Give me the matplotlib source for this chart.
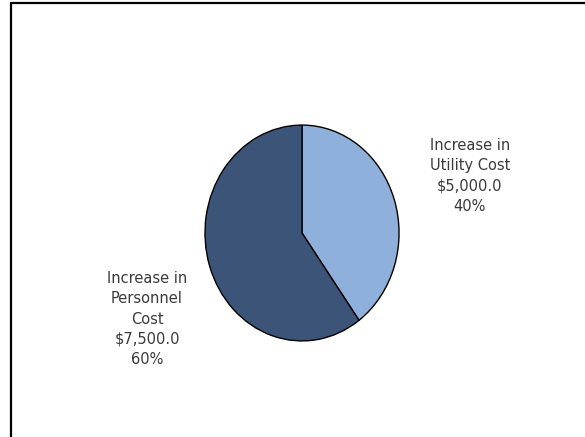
import matplotlib.pyplot as plt
from matplotlib.patches import Rectangle

# cost increases
categories = ['Increase in\nUtility Cost', 'Increase in\nPersonnel\nCost']
values = [5000.0, 7500.0]
colors = ['#8EB0DB', '#3C5478']

W, H = 585, 437
fig = plt.figure(figsize=(W / 100, H / 100), dpi=100)

# outer frame (runs off the right and bottom edges)
fig.patches.append(Rectangle((11 / W, -0.05), 1.1, 1 - 3 / H + 0.05,
                             transform=fig.transFigure, fill=False,
                             edgecolor='black', linewidth=1.6))

# pie, slightly taller than wide
cx, cy, rx, ry = 302, 233, 98, 109
ax = fig.add_axes([(cx - rx) / W, (H - cy - ry) / H, 2 * rx / W, 2 * ry / H])
ax.pie(values, colors=colors, startangle=90, counterclock=False,
       wedgeprops=dict(edgecolor='black', linewidth=1.0))
ax.set_aspect('auto')
ax.set_xlim(-1.01, 1.01)
ax.set_ylim(-1.01, 1.01)
ax.axis('off')

total = sum(values)
label_pos = [(470, 176), (147, 319)]
for name, v, (x, y) in zip(categories, values, label_pos):
    txt = f"{name}\n${v:,.1f}\n{100 * v / total:.0f}%"
    fig.text(x / W, 1 - y / H, txt, ha='center', va='center',
             fontsize=10.5, color='#3a3a3a', linespacing=1.45)

fig.savefig('out.png', dpi=100)
